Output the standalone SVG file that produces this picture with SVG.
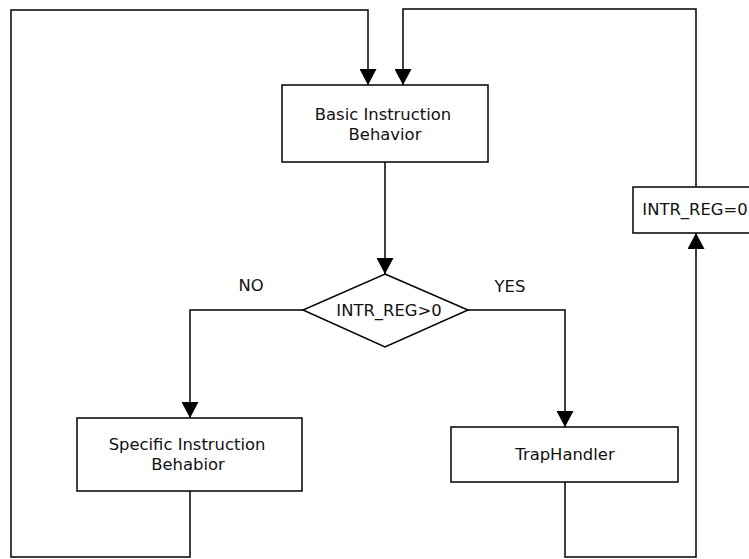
<svg xmlns="http://www.w3.org/2000/svg" width="749" height="559" viewBox="0 0 749 559">
<style>
.box{fill:#fff;stroke:#000;stroke-width:1.5}
.ln{fill:none;stroke:#000;stroke-width:1.5}
text{font-family:"DejaVu Sans","Liberation Sans",sans-serif;font-size:16.4px;fill:#111;text-anchor:middle}
</style>
<defs>
<marker id="arr" viewBox="0 0 16 17" refX="16" refY="8.5" markerWidth="16" markerHeight="17" markerUnits="userSpaceOnUse" orient="auto">
<path d="M0,0 L16,8.5 L0,17 Z" fill="#000"/>
</marker>
</defs>
<rect width="749" height="559" fill="#fff"/>
<g id="connectors">
<path class="ln" d="M385,162 V274" marker-end="url(#arr)"/>
<path class="ln" d="M303,310 H190 V418" marker-end="url(#arr)"/>
<path class="ln" d="M468,310 H565 V427" marker-end="url(#arr)"/>
<path class="ln" d="M190,491 V557 H11 V10 H368 V85" marker-end="url(#arr)"/>
<path class="ln" d="M565,482 V557 H696 V233" marker-end="url(#arr)"/>
<path class="ln" d="M696,187 V9 H403 V85" marker-end="url(#arr)"/>
</g>
<g id="basic">
<rect class="box" x="282" y="85" width="206" height="77"/>
<text x="383" y="120">Basic Instruction</text>
<text x="385" y="140">Behavior</text>
</g>
<g id="decision">
<polygon class="box" points="385,274 468,310 385,347 303,310"/>
<text x="389" y="316">INTR_REG&gt;0</text>
</g>
<g id="specific">
<rect class="box" x="77" y="418" width="225" height="73"/>
<text x="187" y="450">Specific Instruction</text>
<text x="188" y="470">Behabior</text>
</g>
<g id="trap">
<rect class="box" x="451" y="427" width="227" height="55"/>
<text x="565" y="460">TrapHandler</text>
</g>
<g id="reset">
<rect class="box" x="633" y="187" width="120" height="46"/>
<text x="695" y="215">INTR_REG=0</text>
</g>
<g id="labels">
<text x="251" y="291">NO</text>
<text x="510" y="292">YES</text>
</g>
</svg>
